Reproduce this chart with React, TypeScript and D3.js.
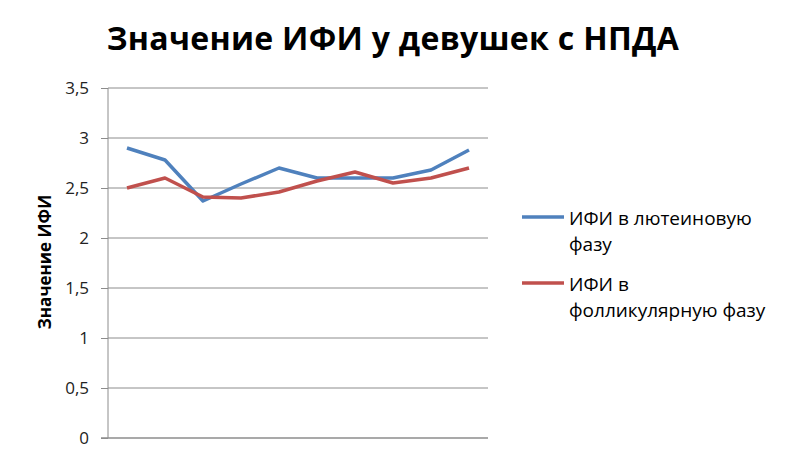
import { useEffect, useRef } from "react"
import * as d3 from "d3"

const categories = ["1", "2", "3", "4", "5", "6", "7", "8", "9", "10"]
const luteal = [2.9, 2.78, 2.37, 2.54, 2.7, 2.6, 2.6, 2.6, 2.68, 2.88]
const follicular = [2.5, 2.6, 2.41, 2.4, 2.46, 2.57, 2.66, 2.55, 2.6, 2.7]
const yTicks = [0, 0.5, 1, 1.5, 2, 2.5, 3, 3.5]

const series = [
  { name: ["ИФИ в лютеиновую", "фазу"], values: luteal, color: "#4F81BD" },
  { name: ["ИФИ в", "фолликулярную фазу"], values: follicular, color: "#C0504D" },
]

const WIDTH = 789
const HEIGHT = 459
const PLOT = { left: 108, right: 488, top: 88, bottom: 438 }
const FONT = "'Open Sans', 'DejaVu Sans', sans-serif"

export default function App() {
  const svgRef = useRef<SVGSVGElement>(null)

  useEffect(() => {
    if (!svgRef.current) return
    const svg = d3.select(svgRef.current)
    svg.selectAll("*").remove()

    svg.append("rect").attr("width", WIDTH).attr("height", HEIGHT).attr("fill", "#fff")

    const x = d3.scaleBand().domain(categories).range([PLOT.left, PLOT.right])
    const y = d3.scaleLinear().domain([0, 3.5]).range([PLOT.bottom, PLOT.top])
    const cx = (i: number) => (x(categories[i]) as number) + x.bandwidth() / 2

    // title
    svg.append("text")
      .attr("x", 393)
      .attr("y", 50)
      .attr("text-anchor", "middle")
      .attr("font-family", FONT)
      .attr("font-weight", "bold")
      .attr("font-size", "32px")
      .attr("letter-spacing", "0.3px")
      .attr("fill", "#000")
      .text("Значение ИФИ у девушек с НПДА")

    // gridlines
    svg.append("g")
      .selectAll("line")
      .data(yTicks.filter((t) => t > 0))
      .join("line")
      .attr("x1", PLOT.left)
      .attr("x2", PLOT.right)
      .attr("y1", (d) => y(d))
      .attr("y2", (d) => y(d))
      .attr("stroke", "#8c8c8c")
      .attr("stroke-width", 1)

    // y axis
    const yAxis = d3.axisLeft(y)
      .tickValues(yTicks)
      .tickSize(7)
      .tickPadding(12)
      .tickFormat((d) => String(d).replace(".", ","))
    const ya = svg.append("g").attr("transform", `translate(${PLOT.left},0)`).call(yAxis)
    ya.select(".domain").attr("stroke", "#8c8c8c").attr("d", `M0,${PLOT.top}V${PLOT.bottom}`)
    ya.selectAll(".tick line").attr("stroke", "#8c8c8c")
    ya.selectAll(".tick text")
      .attr("font-family", FONT)
      .attr("font-size", "17px")
      .attr("fill", "#222")

    // x axis line
    svg.append("line")
      .attr("x1", PLOT.left - 7)
      .attr("x2", PLOT.right)
      .attr("y1", PLOT.bottom)
      .attr("y2", PLOT.bottom)
      .attr("stroke", "#8c8c8c")
      .attr("stroke-width", 1.5)

    // y axis title
    svg.append("text")
      .attr("transform", `translate(51,262) rotate(-90)`)
      .attr("text-anchor", "middle")
      .attr("font-family", FONT)
      .attr("font-weight", "bold")
      .attr("font-size", "17px")
      .attr("fill", "#000")
      .text("Значение ИФИ")

    // lines
    const line = d3.line<number>()
      .x((_, i) => cx(i))
      .y((d) => y(d))

    series.forEach((s) => {
      svg.append("path")
        .datum(s.values)
        .attr("fill", "none")
        .attr("stroke", s.color)
        .attr("stroke-width", 3.5)
        .attr("stroke-linejoin", "round")
        .attr("d", line)
    })

    // legend
    const legend = svg.append("g").attr("transform", "translate(522,217)")
    series.forEach((s, i) => {
      const g = legend.append("g").attr("transform", `translate(0,${i * 66})`)
      g.append("line").attr("x1", 0).attr("x2", 42).attr("y1", 0).attr("y2", 0)
        .attr("stroke", s.color).attr("stroke-width", 3.5)
      s.name.forEach((t, j) => {
        g.append("text")
          .attr("x", 47)
          .attr("y", 8 + j * 26)
          .attr("font-family", FONT)
          .attr("font-size", "19px")
          .attr("fill", "#000")
          .text(t)
      })
    })
  }, [])

  return <svg ref={svgRef} width={WIDTH} height={HEIGHT} style={{ display: "block", position: "absolute", left: 0, top: 0 }} />
}
